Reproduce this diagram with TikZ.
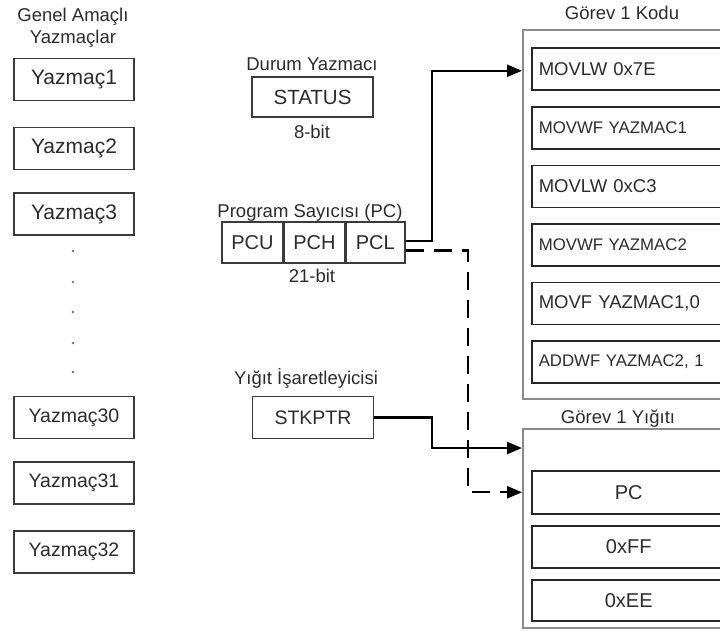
\documentclass[tikz,border=0pt]{standalone}
\usepackage{fontspec}
\setmainfont{Liberation Sans}
\usetikzlibrary{arrows.meta}

\definecolor{txtgray}{HTML}{2B2B2B}
\definecolor{boxgray}{HTML}{3A3A3A}
\definecolor{framegray}{HTML}{8A8A8A}

\begin{document}
\begin{tikzpicture}[x=1pt, y=-1pt, font=\fontsize{18.5}{21}\selectfont, text=txtgray,
  regbox/.style={draw=boxgray, line width=1.6pt, minimum width=120pt, minimum height=42pt, inner sep=0pt},
  pcbox/.style={draw=boxgray, line width=1.4pt, minimum height=41pt, inner sep=0pt, font=\fontsize{20}{22}\selectfont},
  frame/.style={draw=framegray, line width=1.6pt, anchor=north west, inner sep=0pt},
  codebox/.style={draw=black!85, line width=1.5pt, anchor=north west, text width=180pt, inner xsep=7pt, inner ysep=0pt, minimum height=42pt, align=left},
  stackbox/.style={codebox, align=center, font=\fontsize{20}{22}\selectfont},
  conn/.style={line width=2.4pt, black},
  tip/.style={-{Triangle[length=15pt,width=12pt]}}]
  \useasboundingbox (0,0) rectangle (720,630);
  \clip (0,0) rectangle (720,630);
  % general purpose registers
  \node[align=center, font=\fontsize{18.5}{22}\selectfont] (genel) at (73,28) {Genel Amaçlı\\Yazmaçlar};
  \node[regbox, font=\fontsize{21}{22}\selectfont] (r1) at (74,79.5) {Yazmaç1};
  \node[regbox, font=\fontsize{21}{22}\selectfont] (r2) at (74,148.5) {Yazmaç2};
  \node[regbox, font=\fontsize{21}{22}\selectfont] (r3) at (74,214) {Yazmaç3};
  \fill[black!55] (73,251) circle (1.3pt) (73,282) circle (1.3pt) (73,312) circle (1.3pt) (73,343) circle (1.3pt) (73,372) circle (1.3pt);
  \node[regbox, font=\fontsize{19.5}{22}\selectfont] (r30) at (74,417.5) {Yazmaç30};
  \node[regbox, font=\fontsize{19.5}{22}\selectfont] (r31) at (74,483) {Yazmaç31};
  \node[regbox, font=\fontsize{19.5}{22}\selectfont] (r32) at (74,552) {Yazmaç32};
  % status, PC and stack pointer
  \node (durum) at (312,64) {Durum Yazmacı};
  \node[regbox, minimum width=121pt, minimum height=40pt, font=\fontsize{20.5}{22}\selectfont] (status) at (312.5,97) {STATUS};
  \node (bit8) at (312,132) {8-bit};
  \node (pclabel) at (310,213) {Program Sayıcısı (PC)};
  \node[pcbox, minimum width=61pt] (pcu) at (252.5,242.5) {PCU};
  \node[pcbox, minimum width=60pt, anchor=west] (pch) at (pcu.east) {PCH};
  \node[pcbox, minimum width=59pt, anchor=west] (pcl) at (pch.east) {PCL};
  \node (bit21) at (312,276) {21-bit};
  \node (yiglabel) at (306,378) {Yığıt İşaretleyicisi};
  \node[regbox, minimum width=121pt, font=\fontsize{19.5}{22}\selectfont] (stkptr) at (313,417.5) {STKPTR};
  % task code
  \node (kodutitle) at (622,13) {Görev 1 Kodu};
  \node[frame, minimum width=215pt, minimum height=369pt] (kodu) at (522,29) {};
  \node[codebox] (c1) at (531,47) {MOVLW 0x7E};
  \node[codebox, font=\fontsize{16.8}{20}\selectfont] (c2) at (531,106) {MOVWF YAZMAC1};
  \node[codebox] (c3) at (531,164.5) {MOVLW 0xC3};
  \node[codebox, font=\fontsize{16.8}{20}\selectfont] (c4) at (531,223) {MOVWF YAZMAC2};
  \node[codebox] (c5) at (531,281.5) {MOVF YAZMAC1,0};
  \node[codebox, font=\fontsize{16.8}{20}\selectfont] (c6) at (531,340) {ADDWF YAZMAC2, 1};
  % task stack
  \node (yigtitle) at (618,419) {Görev 1 Yığıtı};
  \node[frame, minimum width=215pt, minimum height=199pt] (yigit) at (522,428) {};
  \node[stackbox, minimum height=43pt] (s1) at (531,470) {PC};
  \node[stackbox] (s2) at (531,525) {0xFF};
  \node[stackbox, minimum height=41pt] (s3) at (531,579) {0xEE};
  % connectors
  \coordinate (knee) at (432,300);
  \coordinate (dknee) at (468,300);
  \coordinate (pcdash) at ([yshift=-8pt]pcl.east);
  \draw[conn, tip] ([yshift=1.5pt]pcl.east) -- ([yshift=1.5pt]pcl.east -| knee) |- ([yshift=-2pt]kodu.west |- c1.west);
  \draw[conn, tip] (stkptr.east) -- (stkptr.east -| knee) |- ([yshift=-20pt]yigit.north west);
  \draw[conn, tip, dash pattern=on 18pt off 10pt] (pcdash) -- (pcdash -| dknee) |- (yigit.west |- s1.west);
\end{tikzpicture}
\end{document}
